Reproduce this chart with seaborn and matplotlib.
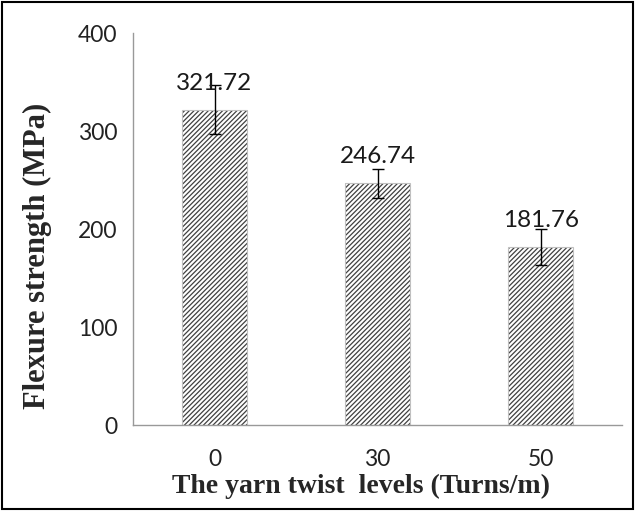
import matplotlib
matplotlib.use("Agg")
import matplotlib.pyplot as plt
import seaborn as sns
import pandas as pd
from matplotlib.patches import Rectangle

categories = ["0", "30", "50"]
values = [321.72, 246.74, 181.76]
errors = [25, 15, 18]
yticks = [0, 100, 200, 300, 400]

sns.set_style("white")
plt.rcParams['hatch.linewidth'] = 0.9

df = pd.DataFrame({"level": categories, "strength": values})

fig = plt.figure(figsize=(6.35, 5.11), dpi=100)
ax_l, ax_b, ax_w, ax_h = 0.2094, 0.168, 0.7706, 0.767
ax = fig.add_axes([ax_l, ax_b, ax_w, ax_h])

sns.barplot(data=df, x="level", y="strength", ax=ax, color="white",
            width=0.4, edgecolor="#c0c0c0", linewidth=0.8, errorbar=None)
for p in ax.patches:
    p.set_hatch("///////")
    if hasattr(p, "set_hatchcolor"):
        p.set_hatchcolor("#404040")
    else:
        p._hatch_color = matplotlib.colors.to_rgba("#404040")

xpos = list(range(len(categories)))
ax.errorbar(xpos, values, yerr=errors, fmt="none", ecolor="black",
            elinewidth=1.0, capsize=4.5, capthick=1.0)

tfont = ["Lato", "DejaVu Sans"]
for x, v in zip(xpos, values):
    ax.text(x, v + 27, f"{v:.2f}", ha="center", va="center",
            fontsize=17.5, family=tfont, color="#1a1a1a")

ax.set_ylim(0, 400)
ax.set_xlim(-0.5, 2.5)
ax.set_yticks(yticks)
ax.set_yticklabels([str(t) for t in yticks], family=tfont, fontsize=16.5, color="#222222")
ax.set_xticks(xpos)
ax.set_xticklabels(categories, family=tfont, fontsize=16.5, color="#222222")
ax.set_xticks([-0.5, 0.5, 1.5, 2.5], minor=True)
ax.tick_params(axis="x", which="major", length=0, pad=17)
ax.tick_params(axis="x", which="minor", length=7, color="#999999", width=1, direction="out")
ax.tick_params(axis="y", which="major", length=6, color="#999999", width=1, direction="out", pad=5)

for s in ["top", "right"]:
    ax.spines[s].set_visible(False)
for s in ["left", "bottom"]:
    ax.spines[s].set_color("#999999")
    ax.spines[s].set_linewidth(1)

lfont = ["Liberation Serif", "DejaVu Serif"]
ax.set_xlabel("The yarn twist  levels (Turns/m)", family=lfont, fontweight="bold",
              fontsize=20)
ax.xaxis.set_label_coords((361 - 133) / (ax_w * 635), (425 - 474) / (ax_h * 511))
ax.set_ylabel("Flexure strength (MPa)", family=lfont, fontweight="bold",
              fontsize=22)
ax.yaxis.set_label_coords((52 - 133) / (ax_w * 635), (425 - 256) / (ax_h * 511))

fig.patches.append(Rectangle((0.003, 0.003), 0.994, 0.994, transform=fig.transFigure,
                             fill=False, edgecolor="black", linewidth=1.5))

fig.savefig("out.png", dpi=100)
